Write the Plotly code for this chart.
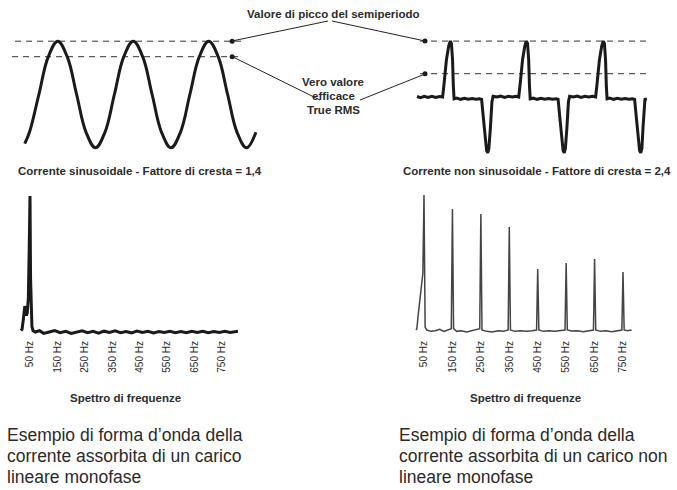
import plotly.graph_objects as go

W, H = 677, 490

# ---------------- data ----------------
# sinusoidal current (time in ms, current in RMS units)
sine_t = [1.25, 2.5, 5, 7.5, 10, 12.5, 15, 17.5, 20, 22.5, 25, 27.5, 30, 32.5,
          35, 37.5, 40, 42.5, 45, 47.5, 50, 52.5, 55, 57.5, 60, 62.5]
sine_i = [-1.30, -1.0, 0.0, 1.0, 1.41, 1.0, 0.0, -1.0, -1.41, -1.0, 0.0, 1.0, 1.41, 1.0,
          0.0, -1.0, -1.41, -1.0, 0.0, 1.0, 1.41, 1.0, 0.0, -1.0, -1.41, -1.0]

# non-sinusoidal current (time in ms, current in RMS units)
ns_t = [-3.9, -3.0, -2.0, -1.0, 0.0, 1.0, 2.0, 2.8,
        3.2, 3.8, 4.4, 4.8, 5.1, 5.4, 5.6, 5.8,
        6.5, 7.5, 8.5, 9.5, 10.5, 11.5, 12.5, 13.0,
        13.4, 13.9, 14.3, 14.6, 14.9, 15.3, 15.7, 16.0,
        17.0, 18.0, 19.0, 20.0, 21.0, 22.0, 22.7,
        23.1, 23.7, 24.3, 24.7, 25.0, 25.3, 25.5, 25.7,
        26.5, 27.5, 28.5, 29.5, 30.5, 31.5, 32.5, 33.0,
        33.4, 33.9, 34.3, 34.6, 34.9, 35.3, 35.7, 36.0,
        37.0, 38.0, 39.0, 40.0, 41.0, 42.0, 42.8,
        43.2, 43.8, 44.4, 44.8, 45.1, 45.4, 45.6, 45.8,
        46.5, 47.5, 48.5, 49.5, 50.5, 51.5, 52.5, 53.0,
        53.4, 53.9, 54.3, 54.6, 54.9, 55.2, 55.5, 55.7, 56.2]
ns_i = [0.02, -0.03, 0.03, -0.02, 0.03, -0.02, 0.02, 0.0,
        0.6, 1.6, 2.2, 2.4, 2.3, 1.6, 0.5, -0.08,
        -0.05, -0.1, -0.06, -0.1, -0.07, -0.1, -0.08, -0.1,
        -0.8, -1.8, -2.3, -2.4, -2.2, -1.3, -0.2, 0.03,
        0.0, 0.04, -0.02, 0.03, 0.0, 0.03, 0.0,
        0.6, 1.6, 2.2, 2.4, 2.3, 1.6, 0.5, -0.08,
        -0.05, -0.1, -0.06, -0.1, -0.07, -0.1, -0.08, -0.1,
        -0.8, -1.8, -2.3, -2.4, -2.2, -1.3, -0.2, 0.03,
        0.0, 0.04, -0.02, 0.03, 0.0, 0.03, 0.0,
        0.6, 1.6, 2.2, 2.4, 2.3, 1.6, 0.5, -0.08,
        -0.05, -0.1, -0.06, -0.1, -0.07, -0.1, -0.08, -0.1,
        -0.8, -1.8, -2.3, -2.4, -2.2, -1.3, -0.4, -0.1, -0.08]

# reference levels: peak (crest factor) and true RMS
peak_level = [1.41, 2.4]
rms_level = [1.0, 1.0]
ref_dot_t = [56.2, -1.8]   # time where the marker dots sit on the levels

# frequency spectra (Hz, % of fundamental)
lin_f = [17, 21, 25, 28, 31, 34, 37, 40, 44, 47, 50, 52, 54, 57, 61, 70, 85, 100, 120, 140,
         160, 180, 200, 220, 240, 260, 280, 300, 320, 340, 360, 380, 400, 420, 440, 460,
         480, 500, 520, 540, 560, 580, 600, 620, 640, 660, 680, 700, 720, 740, 760, 780,
         800, 808]
lin_a = [1, 2, 8, 16, 19, 16, 12, 14, 25, 60, 100, 40, 12, 4, 1, 0, 1, -1, 0, 1,
         -0.5, 0.5, -1, 0, 0.8, -0.5, 0.5, -0.8, 0.6, -0.3, 0.8, -0.5, 0.4, -0.6, 0.7, -0.3,
         0.5, -0.7, 0.4, -0.4, 0.6, -0.5, 0.3, -0.6, 0.5, -0.4, 0.6, -0.5, 0.4, -0.3, 0.5, -0.4,
         0.3, 0.5]

nl_f = [22, 25, 29, 34, 40, 46, 50, 52, 54, 60, 75, 90, 105, 120, 135, 146, 150, 154,
        165, 180, 200, 220, 240, 246, 250, 254, 270, 290, 310, 330, 346, 350, 354,
        370, 390, 410, 430, 446, 450, 454, 470, 490, 510, 530, 546, 550, 554,
        570, 590, 610, 630, 646, 650, 654, 670, 690, 710, 730, 746, 750, 754, 765, 780]
nl_a = [0, 1, 10, 20, 30, 42, 100, 20, 2, 0, -1, -0.5, 0.5, -1, 0.5, 1, 89.6, 1,
        -1, -0.5, -1.5, -0.5, 0.5, 1, 85.9, 0, -1, -1.5, -0.5, -1, 0, 76.3, 0,
        -1, -0.5, -1, -0.5, 0, 45.2, 0, -1, -0.5, -1, -0.3, 0, 49.6, 0,
        -0.8, -0.5, -1.2, -0.5, 0, 52.6, 0, -1, -0.5, -1.2, -0.5, 0, 43.0, 0, -0.5, 0]

harm_ticks = [50, 150, 250, 350, 450, 550, 650, 750]
harm_labels = ["50 Hz", "150 Hz", "250 Hz", "350 Hz", "450 Hz", "550 Hz", "650 Hz", "750 Hz"]

# ---------------- layout helpers (pixel placement) ----------------
def xaxis_cfg(px0, px1, a, b):
    return dict(domain=[px0 / W, px1 / W], range=[(px0 - a) / b, (px1 - a) / b])

def yaxis_cfg(py_top, py_bot, a, b):
    return dict(domain=[1 - py_bot / H, 1 - py_top / H],
                range=[(a - py_bot) / b, (a - py_top) / b])

def px(x):
    return x / W

def py(y):
    return 1 - y / H

FONT = "Liberation Sans, Arial, Helvetica, sans-serif"
INK = "#1a1a1a"
TXT = "#2b2b2b"

fig = go.Figure()

fig.add_trace(go.Scatter(x=sine_t, y=sine_i, mode="lines", xaxis="x", yaxis="y",
                         line=dict(color=INK, width=3, shape="spline", smoothing=1.1),
                         hoverinfo="skip"))
fig.add_trace(go.Scatter(x=ns_t, y=ns_i, mode="lines", xaxis="x2", yaxis="y2",
                         line=dict(color=INK, width=3), hoverinfo="skip"))
fig.add_trace(go.Scatter(x=lin_f, y=lin_a, mode="lines", xaxis="x3", yaxis="y3",
                         line=dict(color=INK, width=3), hoverinfo="skip"))
fig.add_trace(go.Scatter(x=nl_f, y=nl_a, mode="lines", xaxis="x4", yaxis="y4",
                         line=dict(color="#444444", width=1.5), hoverinfo="skip"))
# reference dots
fig.add_trace(go.Scatter(x=[ref_dot_t[0]] * 2, y=[peak_level[0], rms_level[0]], mode="markers",
                         xaxis="x", yaxis="y", marker=dict(color=INK, size=5), hoverinfo="skip"))
fig.add_trace(go.Scatter(x=[ref_dot_t[1]] * 2, y=[peak_level[1], rms_level[1]], mode="markers",
                         xaxis="x2", yaxis="y2", marker=dict(color=INK, size=5), hoverinfo="skip"))

hidden = dict(visible=False, showgrid=False, zeroline=False, fixedrange=True)
spec_x = dict(showgrid=False, zeroline=False, showline=False, ticks="",
              tickvals=harm_ticks, ticktext=harm_labels, tickangle=-90,
              tickfont=dict(family=FONT, size=10, color=TXT), automargin=False)

fig.update_layout(
    width=W, height=H,
    margin=dict(l=0, r=0, t=0, b=0),
    paper_bgcolor="white", plot_bgcolor="white",
    showlegend=False,
    xaxis=dict(**hidden, **xaxis_cfg(0, 338, 20, 3.775), anchor="y"),
    yaxis=dict(**hidden, **yaxis_cfg(8, 178, 94.5, 37.8), anchor="x"),
    xaxis2=dict(**hidden, **xaxis_cfg(339, 677, 431.9, 3.825), anchor="y2"),
    yaxis2=dict(**hidden, **yaxis_cfg(8, 178, 97, 23.3), anchor="x2"),
    xaxis3=dict(**spec_x, **xaxis_cfg(0, 338, 30 - 50 * 0.2743, 0.2743), anchor="y3"),
    yaxis3=dict(**hidden, **yaxis_cfg(185, 338, 332, 1.36), anchor="x3"),
    xaxis4=dict(**spec_x, **xaxis_cfg(339, 677, 424 - 50 * 0.2843, 0.2843), anchor="y4"),
    yaxis4=dict(**hidden, **yaxis_cfg(185, 338, 330, 1.35), anchor="x4"),
)

# dashed reference levels
dash = dict(color="#333333", width=1, dash="6px,5px")
fig.add_shape(type="line", xref="x", yref="y", x0=-1.3, x1=59.6, y0=peak_level[0], y1=peak_level[0], line=dash, layer="below")
fig.add_shape(type="line", xref="x", yref="y", x0=-2.1, x1=58.3, y0=rms_level[0], y1=rms_level[0], line=dash, layer="below")
fig.add_shape(type="line", xref="x2", yref="y2", x0=-3.1, x1=56.8, y0=peak_level[1], y1=peak_level[1], line=dash, layer="below")
fig.add_shape(type="line", xref="x2", yref="y2", x0=-3.1, x1=56.8, y0=rms_level[1], y1=rms_level[1], line=dash, layer="below")

# connector lines from labels to the dots
conn = dict(color="#222222", width=1)
for (x0, y0, x1, y1) in [(328, 21, 232, 41), (332, 21, 425, 41), (320, 100, 233, 57), (360, 100, 425, 74)]:
    fig.add_shape(type="line", xref="paper", yref="paper", x0=px(x0), y0=py(y0), x1=px(x1), y1=py(y1), line=conn)

def label(text, x, y, size, bold=False, xanchor="center", color=TXT):
    fig.add_annotation(text=f"<b>{text}</b>" if bold else text, x=px(x), y=py(y),
                       xref="paper", yref="paper", showarrow=False,
                       xanchor=xanchor, yanchor="middle",
                       font=dict(family=FONT, size=size, color=color))

label("Valore di picco del semiperiodo", 333, 14, 11.5, bold=True)
label("Vero valore", 333, 82, 11.5, bold=True)
label("efficace", 333, 96, 11.5, bold=True)
label("True RMS", 333, 110, 11.5, bold=True)
label("Corrente sinusoidale - Fattore di cresta = 1,4", 140, 171, 11.5, bold=True)
label("Corrente non sinusoidale - Fattore di cresta = 2,4", 537, 171, 11.5, bold=True)
label("Spettro di frequenze", 125, 398, 11.5, bold=True)
label("Spettro di frequenze", 525, 398, 11.5, bold=True)

para_l = ["Esempio di forma d’onda della", "corrente assorbita di un carico", "lineare monofase"]
para_r = ["Esempio di forma d’onda della", "corrente assorbita di un carico non", "lineare monofase"]
for k, yy in enumerate([435, 456, 477]):
    label(para_l[k], 5, yy, 17.5, xanchor="left", color="#2a2a2a")
    label(para_r[k], 397, yy, 17.5, xanchor="left", color="#2a2a2a")

fig.write_html("out.html", config={"displayModeBar": False},
               post_script="document.body.style.margin='0';document.body.style.overflow='hidden';")
